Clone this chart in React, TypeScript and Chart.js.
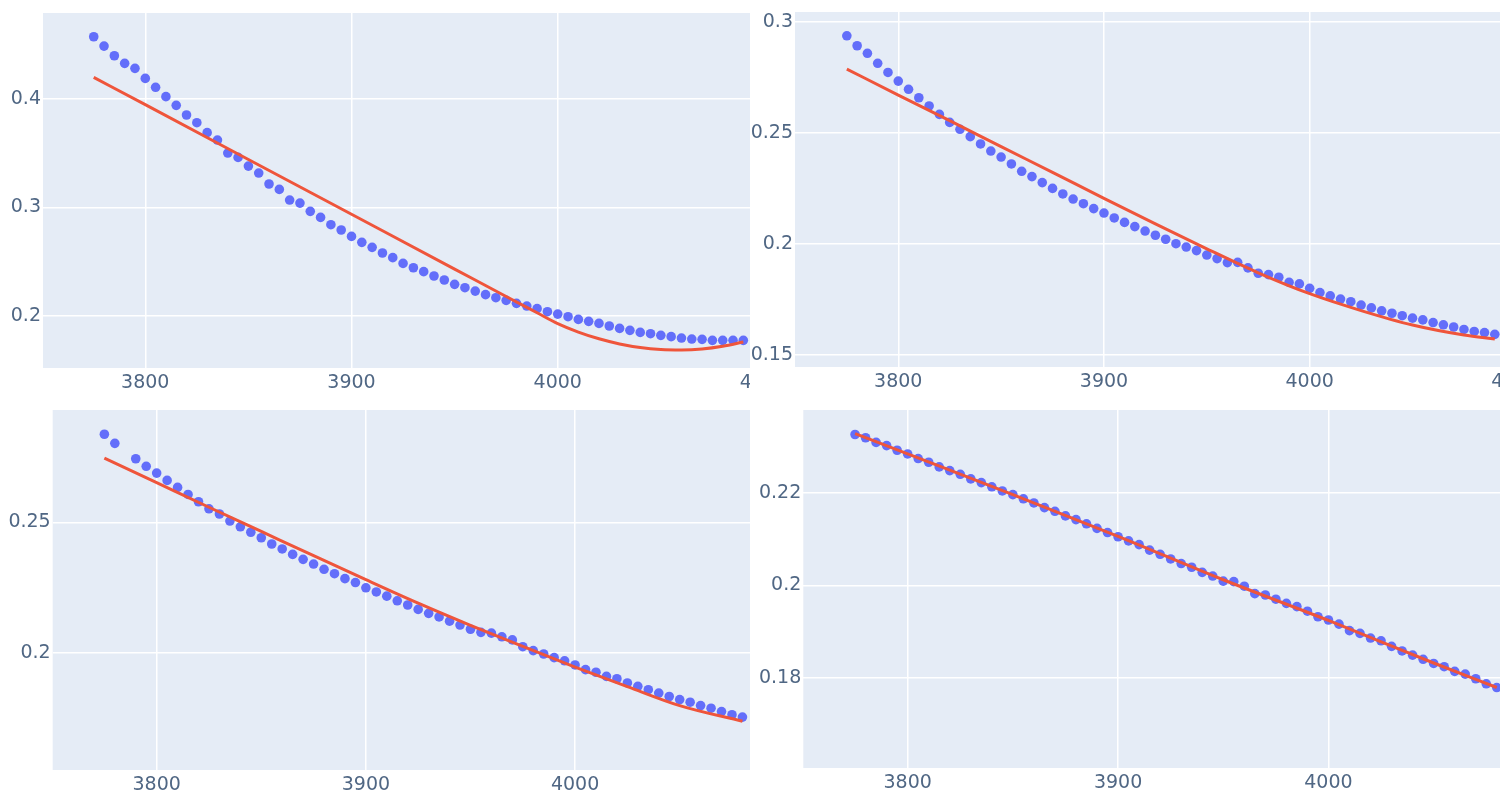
import React, { useEffect, useRef } from "react";
import { Chart, registerables } from "chart.js";

Chart.register(...registerables);

// ---------- data ----------
const X_TICKS = [3800, 3900, 4000, 4100];
const X_TICK_LABELS = ["3800", "3900", "4000", "4100"];

const DOT_X_A = [
  3775, 3780, 3785, 3790, 3795, 3800, 3805, 3810, 3815, 3820, 3825, 3830, 3835, 3840, 3845, 3850,
  3855, 3860, 3865, 3870, 3875, 3880, 3885, 3890, 3895, 3900, 3905, 3910, 3915, 3920, 3925, 3930,
  3935, 3940, 3945, 3950, 3955, 3960, 3965, 3970, 3975, 3980, 3985, 3990, 3995, 4000, 4005, 4010,
  4015, 4020, 4025, 4030, 4035, 4040, 4045, 4050, 4055, 4060, 4065, 4070, 4075, 4080, 4085, 4090,
];
const DOT_X_C = [
  3775, 3780, 3790, 3795, 3800, 3805, 3810, 3815, 3820, 3825, 3830, 3835, 3840, 3845, 3850,
  3855, 3860, 3865, 3870, 3875, 3880, 3885, 3890, 3895, 3900, 3905, 3910, 3915, 3920, 3925, 3930,
  3935, 3940, 3945, 3950, 3955, 3960, 3965, 3970, 3975, 3980, 3985, 3990, 3995, 4000, 4005, 4010,
  4015, 4020, 4025, 4030, 4035, 4040, 4045, 4050, 4055, 4060, 4065, 4070, 4075, 4080,
];
const DOT_X_D = [
  3775, 3780, 3785, 3790, 3795, 3800, 3805, 3810, 3815, 3820, 3825, 3830, 3835, 3840, 3845, 3850,
  3855, 3860, 3865, 3870, 3875, 3880, 3885, 3890, 3895, 3900, 3905, 3910, 3915, 3920, 3925, 3930,
  3935, 3940, 3945, 3950, 3955, 3960, 3965, 3970, 3975, 3980, 3985, 3990, 3995, 4000, 4005, 4010,
  4015, 4020, 4025, 4030, 4035, 4040, 4045, 4050, 4055, 4060, 4065, 4070, 4075, 4080,
];

const DOT_Y_1 = [
  0.4574, 0.4488, 0.4399, 0.4329, 0.4283, 0.419, 0.4108, 0.4022, 0.3942, 0.3853, 0.3782, 0.369,
  0.3622, 0.3502, 0.3462, 0.3382, 0.3318, 0.3217, 0.3167, 0.3069, 0.3041, 0.2965, 0.2909, 0.2842,
  0.2793, 0.2734, 0.2679, 0.2633, 0.2581, 0.2538,
  0.2485, 0.2445, 0.2409, 0.2369, 0.2332, 0.2292, 0.2261, 0.223, 0.2197, 0.2169, 0.2144, 0.2117,
  0.2092, 0.2068, 0.204, 0.2018, 0.1994, 0.1969, 0.1951, 0.1932, 0.1908, 0.1886, 0.1868, 0.1849,
  0.1837, 0.1822, 0.181, 0.1797, 0.1788, 0.1785, 0.1776, 0.1776, 0.1776, 0.1776,
];
const DOT_Y_2 = [
  0.2937, 0.2892, 0.2858, 0.2813, 0.2772, 0.2733, 0.2696, 0.2658, 0.2621, 0.2583, 0.2547, 0.2516,
  0.2483, 0.245, 0.2418, 0.2391, 0.236, 0.2327, 0.2303, 0.2276, 0.225, 0.2225, 0.2202, 0.2181,
  0.2159, 0.2139, 0.2117, 0.2097, 0.2078, 0.2058,
  0.2039, 0.2021, 0.2001, 0.1986, 0.197, 0.195, 0.1934, 0.1916, 0.1917, 0.1892, 0.1868, 0.1862,
  0.185, 0.1827, 0.182, 0.18, 0.1781, 0.1766, 0.1752, 0.174, 0.1725, 0.1712, 0.1699, 0.1688,
  0.1677, 0.1666, 0.1658, 0.1646, 0.1636, 0.1626, 0.1615, 0.1606, 0.1601, 0.1593,
];
const DOT_Y_3 = [
  0.2838, 0.2803, 0.2744, 0.2715, 0.2689, 0.2661, 0.2634, 0.2607, 0.2579, 0.2552, 0.2532, 0.2505,
  0.2483, 0.2462, 0.2441, 0.2417, 0.2398, 0.2377, 0.2358, 0.234, 0.232, 0.2303, 0.2284, 0.2269,
  0.2249, 0.2233, 0.2217, 0.2199,
  0.2183, 0.2166, 0.2151, 0.2137, 0.2121, 0.2106, 0.209, 0.2078, 0.2075, 0.2061, 0.2049, 0.2023,
  0.2008, 0.1995, 0.1981, 0.1969, 0.1953, 0.1935, 0.1925, 0.1909, 0.19, 0.1884, 0.1871, 0.1858,
  0.1845, 0.1832, 0.182, 0.181, 0.1797, 0.1787, 0.1774, 0.1762, 0.1753,
];
const DOT_Y_4 = [
  0.2326, 0.2319, 0.2309, 0.2302, 0.2292, 0.2284, 0.2274, 0.2266, 0.2256, 0.2248, 0.224, 0.223,
  0.2222, 0.2213, 0.2204, 0.2196, 0.2187, 0.2178, 0.2168, 0.216, 0.215, 0.2142, 0.2133, 0.2123,
  0.2114, 0.2105, 0.2096, 0.2088,
  0.2076, 0.2067, 0.2057, 0.2047, 0.2039, 0.2028, 0.202, 0.2009, 0.2008, 0.1998, 0.1982, 0.1979,
  0.197, 0.1961, 0.1954, 0.1944, 0.1932, 0.1925, 0.1916, 0.1902, 0.1896, 0.1886, 0.188, 0.1868,
  0.1858, 0.1849, 0.184, 0.1831, 0.1824, 0.1814, 0.1808, 0.1798, 0.1787, 0.1779,
];

const FIT_X_1 = [3775, 3800, 3850, 3900, 3950, 3975, 3990, 4000, 4010, 4020, 4030, 4040, 4050, 4060, 4070, 4080, 4090];
const FIT_Y_1 = [0.42, 0.3948, 0.3443, 0.2938, 0.2433, 0.218, 0.203, 0.193, 0.1852, 0.179, 0.1743, 0.171, 0.1692, 0.1688, 0.1697, 0.1722, 0.176];
const FIT_X_2 = [3775, 3800, 3825, 3850, 3875, 3900, 3925, 3950, 3975, 4000, 4025, 4050, 4075, 4090];
const FIT_Y_2 = [0.2787, 0.267, 0.2555, 0.2438, 0.2322, 0.2205, 0.209, 0.1978, 0.187, 0.1776, 0.17, 0.1635, 0.159, 0.1572];
const FIT_X_3 = [3775, 3800, 3825, 3850, 3875, 3900, 3925, 3950, 3975, 4000, 4025, 4050, 4080];
const FIT_Y_3 = [0.2746, 0.2652, 0.2558, 0.2465, 0.2372, 0.228, 0.219, 0.2105, 0.2024, 0.1945, 0.187, 0.1797, 0.1737];
const FIT_X_4 = [3775, 3800, 3850, 3900, 3950, 4000, 4050, 4080];
const FIT_Y_4 = [0.2328, 0.2284, 0.2196, 0.2106, 0.2012, 0.1924, 0.1832, 0.1779];

const Y_TICKS_1 = [0.2, 0.3, 0.4];
const Y_LABELS_1 = ["0.2", "0.3", "0.4"];
const Y_TICKS_2 = [0.15, 0.2, 0.25, 0.3];
const Y_LABELS_2 = ["0.15", "0.2", "0.25", "0.3"];
const Y_TICKS_3 = [0.2, 0.25];
const Y_LABELS_3 = ["0.2", "0.25"];
const Y_TICKS_4 = [0.18, 0.2, 0.22];
const Y_LABELS_4 = ["0.18", "0.2", "0.22"];

// ---------- layout / style ----------
const PLOT_BG = "#E5ECF6";
const DOT_COLOR = "#636EFA";
const LINE_COLOR = "#EF553B";
const TEXT_COLOR = "#506784";
const FONT = { family: "'DejaVu Sans', Verdana, sans-serif", size: 19 };

type Panel = {
  left: number; top: number; viewW: number; viewH: number;
  canvasW: number; canvasH: number; axisW: number; padTop: number; axisH: number;
  xMin: number; xMax: number; yMin: number; yMax: number;
  dotX: number[]; dotY: number[]; fitX: number[]; fitY: number[];
  yTicks: number[]; yLabels: string[];
};

const PANELS: Panel[] = [
  { left: 0, top: 0, viewW: 750, viewH: 400, canvasW: 810, canvasH: 400, axisW: 43, padTop: 13, axisH: 32,
    xMin: 3750.4, xMax: 4120.0, yMin: 0.1521, yMax: 0.4793,
    dotX: DOT_X_A, dotY: DOT_Y_1, fitX: FIT_X_1, fitY: FIT_Y_1, yTicks: Y_TICKS_1, yLabels: Y_LABELS_1 },
  { left: 750, top: 0, viewW: 750, viewH: 400, canvasW: 811, canvasH: 400, axisW: 45, padTop: 12, axisH: 33,
    xMin: 3749.8, xMax: 4119.85, yMin: 0.1446, yMax: 0.3044,
    dotX: DOT_X_A, dotY: DOT_Y_2, fitX: FIT_X_2, fitY: FIT_Y_2, yTicks: Y_TICKS_2, yLabels: Y_LABELS_2 },
  { left: 0, top: 400, viewW: 750, viewH: 400, canvasW: 830, canvasH: 400, axisW: 52.7, padTop: 10, axisH: 30,
    xMin: 3750.3, xMax: 4119.56, yMin: 0.155, yMax: 0.2931,
    dotX: DOT_X_C, dotY: DOT_Y_3, fitX: FIT_X_3, fitY: FIT_Y_3, yTicks: Y_TICKS_3, yLabels: Y_LABELS_3 },
  { left: 750, top: 400, viewW: 750, viewH: 400, canvasW: 835, canvasH: 400, axisW: 53.3, padTop: 10, axisH: 32,
    xMin: 3750.4, xMax: 4119.65, yMin: 0.1605, yMax: 0.2379,
    dotX: DOT_X_D, dotY: DOT_Y_4, fitX: FIT_X_4, fitY: FIT_Y_4, yTicks: Y_TICKS_4, yLabels: Y_LABELS_4 },
];

const bgPlugin = {
  id: "plotBg",
  beforeDraw(chart: any) {
    const { ctx, chartArea } = chart;
    if (!chartArea) return;
    ctx.save();
    ctx.fillStyle = PLOT_BG;
    ctx.fillRect(chartArea.left, chartArea.top, chartArea.right - chartArea.left, chartArea.bottom - chartArea.top);
    ctx.restore();
  },
};

function PanelChart({ p }: { p: Panel }) {
  const ref = useRef<HTMLCanvasElement | null>(null);
  useEffect(() => {
    if (!ref.current) return;
    const dots = p.dotX.map((x, i) => ({ x, y: p.dotY[i] }));
    const fit = p.fitX.map((x, i) => ({ x, y: p.fitY[i] }));
    const chart = new Chart(ref.current, {
      type: "scatter",
      data: {
        datasets: [
          {
            type: "line",
            data: fit,
            borderColor: LINE_COLOR,
            borderWidth: 3,
            pointRadius: 0,
            fill: false,
            cubicInterpolationMode: "monotone",
            order: 0,
          } as any,
          {
            type: "scatter",
            data: dots,
            pointBackgroundColor: DOT_COLOR,
            backgroundColor: DOT_COLOR,
            pointBorderWidth: 0,
            borderWidth: 0,
            pointRadius: 4.8,
            order: 1,
          } as any,
        ],
      },
      options: {
        animation: false,
        responsive: true,
        maintainAspectRatio: false,
        events: [],
        layout: { padding: { top: p.padTop, left: 0, right: 0, bottom: 0 } },
        plugins: { legend: { display: false }, tooltip: { enabled: false } },
        scales: {
          x: {
            type: "linear",
            min: p.xMin,
            max: p.xMax,
            grid: { color: "#ffffff", lineWidth: 1.5, drawTicks: false },
            border: { display: false },
            ticks: {
              padding: 4,
              color: TEXT_COLOR,
              font: FONT,
              maxRotation: 0,
              autoSkip: false,
              callback: (v: any) => {
                const i = X_TICKS.indexOf(Number(v));
                return i >= 0 ? X_TICK_LABELS[i] : "";
              },
            },
            afterBuildTicks: (s: any) => {
              s.ticks = X_TICKS.map((v) => ({ value: v }));
            },
            afterFit: (s: any) => {
              s.height = p.axisH;
              s.paddingLeft = 0;
              s.paddingRight = 0;
            },
          },
          y: {
            type: "linear",
            min: p.yMin,
            max: p.yMax,
            grid: { color: "#ffffff", lineWidth: 1.5, drawTicks: false },
            border: { display: false },
            ticks: {
              padding: 2,
              color: TEXT_COLOR,
              font: FONT,
              autoSkip: false,
              callback: (v: any) => {
                const i = p.yTicks.findIndex((t) => Math.abs(t - Number(v)) < 1e-9);
                return i >= 0 ? p.yLabels[i] : "";
              },
            },
            afterBuildTicks: (s: any) => {
              s.ticks = p.yTicks.map((v) => ({ value: v }));
            },
            afterFit: (s: any) => {
              s.width = p.axisW;
              s.paddingTop = 0;
              s.paddingBottom = 0;
            },
          },
        },
      } as any,
      plugins: [bgPlugin],
    });
    return () => chart.destroy();
  }, [p]);

  return (
    <div
      style={{
        position: "absolute",
        left: p.left,
        top: p.top,
        width: p.viewW,
        height: p.viewH,
        overflow: "hidden",
        background: "#ffffff",
      }}
    >
      <div style={{ position: "relative", width: p.canvasW, height: p.canvasH }}>
        <canvas ref={ref} />
      </div>
    </div>
  );
}

export default function App() {
  return (
    <div
      style={{
        position: "absolute",
        left: 0,
        top: 0,
        width: 1500,
        height: 800,
        overflow: "hidden",
        background: "#ffffff",
      }}
    >
      {PANELS.map((p, i) => (
        <PanelChart key={i} p={p} />
      ))}
    </div>
  );
}
